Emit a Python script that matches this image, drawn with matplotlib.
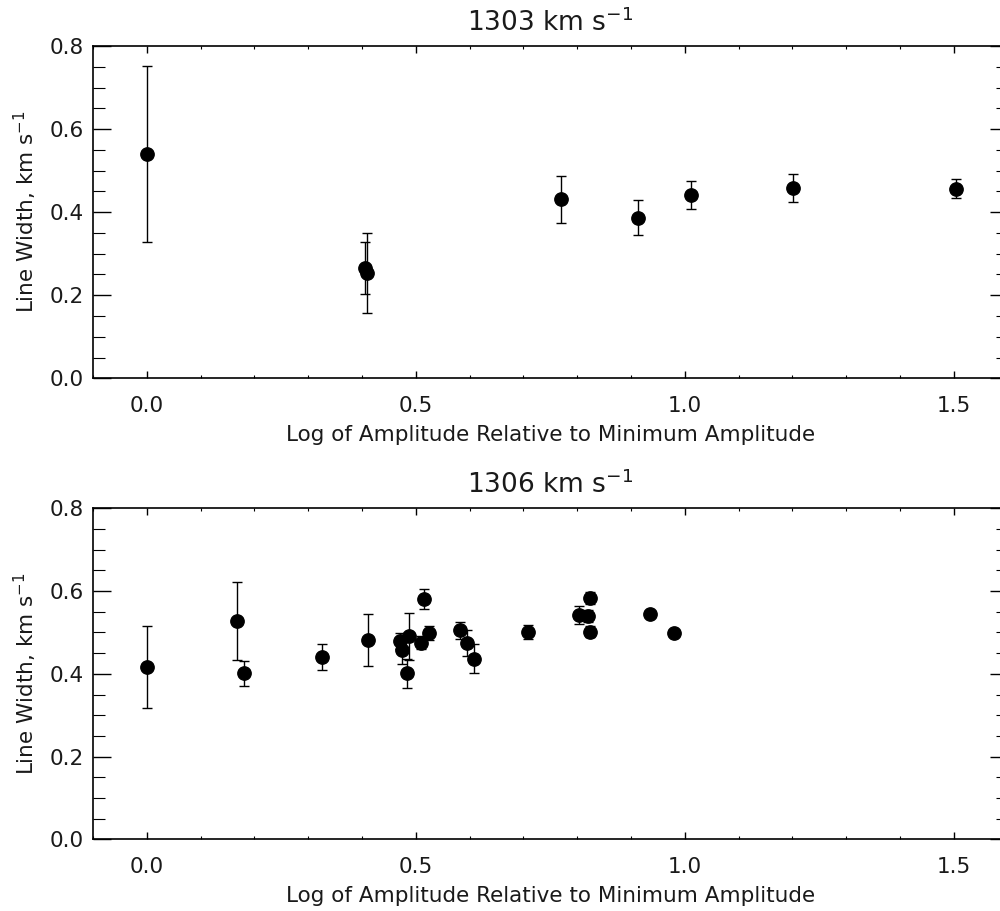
import matplotlib
matplotlib.use("Agg")
import matplotlib.pyplot as plt
from matplotlib.ticker import MultipleLocator, FormatStrFormatter

plt.rcParams['font.family'] = ['DejaVu Sans']
plt.rcParams['mathtext.default'] = 'regular'

# ---- data: top panel (1303 km/s) ----
top_title = "1303 km s$^{-1}$"
top_x = [0.0, 0.406, 0.409, 0.770, 0.913, 1.012, 1.202, 1.504]
top_y = [0.539, 0.266, 0.254, 0.431, 0.387, 0.441, 0.458, 0.456]
top_err = [0.212, 0.063, 0.097, 0.057, 0.043, 0.034, 0.033, 0.023]

# ---- data: bottom panel (1306 km/s) ----
bot_title = "1306 km s$^{-1}$"
bot_x = [0.0, 0.167, 0.181, 0.325, 0.411, 0.471, 0.474, 0.483, 0.488, 0.509,
         0.515, 0.524, 0.582, 0.595, 0.609, 0.708, 0.803, 0.820, 0.824, 0.824,
         0.935, 0.981]
bot_y = [0.416, 0.527, 0.401, 0.441, 0.482, 0.479, 0.458, 0.401, 0.491, 0.475,
         0.581, 0.499, 0.505, 0.474, 0.436, 0.500, 0.542, 0.540, 0.583, 0.502,
         0.545, 0.499]
bot_err = [0.099, 0.094, 0.031, 0.032, 0.062, 0.020, 0.035, 0.036, 0.057, 0.016,
           0.025, 0.017, 0.021, 0.032, 0.035, 0.017, 0.022, 0.015, 0.015, 0.013,
           0.008, 0.008]

xlabel = "Log of Amplitude Relative to Minimum Amplitude"
ylabel = "Line Width, km s$^{-1}$"
xlim = (-0.1, 1.6)
ylim = (0.0, 0.8)

fig = plt.figure(figsize=(10.0, 9.11), dpi=100)
ax_top = fig.add_axes([0.0929, 0.5847, 0.9146, 0.3648])
ax_bot = fig.add_axes([0.0929, 0.0787, 0.9146, 0.3633])

FS = 15.5
TXT = '#1a1a1a'
for ax, xs, ys, es, title in [(ax_top, top_x, top_y, top_err, top_title),
                              (ax_bot, bot_x, bot_y, bot_err, bot_title)]:
    ax.errorbar(xs, ys, yerr=es, fmt='o', color='black', ecolor='black',
                markersize=9.6, elinewidth=1.0, capsize=3.6, capthick=1.0)
    ax.set_xlim(*xlim)
    ax.set_ylim(*ylim)
    ax.xaxis.set_major_locator(MultipleLocator(0.5))
    ax.xaxis.set_minor_locator(MultipleLocator(0.1))
    ax.yaxis.set_major_locator(MultipleLocator(0.2))
    ax.yaxis.set_minor_locator(MultipleLocator(0.05))
    ax.xaxis.set_major_formatter(FormatStrFormatter('%.1f'))
    ax.yaxis.set_major_formatter(FormatStrFormatter('%.1f'))
    ax.tick_params(axis='x', which='major', direction='in', length=4.8, width=1.0,
                   top=True, bottom=True, labelsize=FS, pad=13, labelcolor=TXT)
    ax.tick_params(axis='x', which='minor', direction='in', length=2.4, width=0.8,
                   top=True, bottom=True)
    ax.tick_params(axis='y', which='major', direction='in', length=13, width=1.0,
                   left=True, right=True, labelsize=FS, pad=6.5, labelcolor=TXT)
    ax.tick_params(axis='y', which='minor', direction='in', length=8.4, width=0.8,
                   left=True, right=True)
    for sp in ax.spines.values():
        sp.set_linewidth(1.2)
    ax.set_xlabel(xlabel, fontsize=FS, labelpad=6, color=TXT)
    ax.set_ylabel(ylabel, fontsize=FS, labelpad=8, color=TXT)
    ax.set_title(title, fontsize=19, pad=11, color=TXT)

fig.savefig("out.png", dpi=100)
